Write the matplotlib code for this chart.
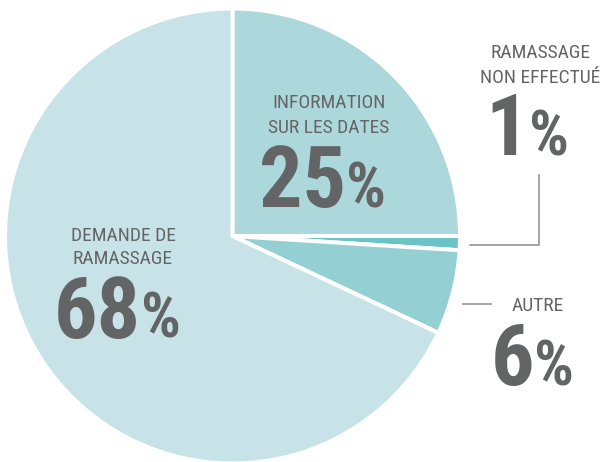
import matplotlib
matplotlib.use('Agg')
import matplotlib.pyplot as plt
from matplotlib import font_manager

# données du camembert (sens horaire depuis le haut)
categories = ['INFORMATION\nSUR LES DATES', 'RAMASSAGE\nNON EFFECTUÉ', 'AUTRE', 'DEMANDE DE\nRAMASSAGE']
values = [25, 1, 6, 68]
pct_labels = ['25', '1', '6', '68']
colors = ['#acd8db', '#6cc3c5', '#94cfd3', '#c8e3e7']

grey = '#636466'

fonts = font_manager.fontManager.ttflist
installed = {f.name for f in fonts}
def pick(*names):
    for n in names:
        if n in installed:
            return n
    return 'DejaVu Sans'

def heaviest(name):
    w = [f.weight for f in fonts if f.name == name]
    w = [int(x) if str(x).isdigit() else 700 for x in w]
    return max(w) if w else 700

narrow = pick('Roboto Condensed', 'Liberation Sans Narrow', 'Arial Narrow', 'Roboto', 'Liberation Sans')
is_narrow = ('Condensed' in narrow) or ('Narrow' in narrow)
lab_fs = 14 if is_narrow else 12.5

# chiffres : la graisse la plus forte disponible
big = pick('Roboto Condensed', 'Roboto', 'Liberation Sans')
big_w = heaviest(big)

fig = plt.figure(figsize=(6.02, 4.62), dpi=100)
ax = fig.add_axes([0, 0, 1, 1])

# axe en pixels, y vers le bas -> angle -90 = haut, counterclock = sens horaire visuel
ax.pie(values, colors=colors, startangle=-90, counterclock=True,
       center=(232.5, 236), radius=227.5,
       wedgeprops=dict(edgecolor='white', linewidth=2.9))
ax.set_xlim(0, 602)
ax.set_ylim(462, 0)
ax.set_aspect('auto')
ax.axis('off')

# positions des textes (x centre du titre, baselines des lignes, x de jonction chiffre/%)
title_x = [329, 540, 538, 123]
title_y = [[108, 133], [58, 83], [311], [241, 264]]
num_split = [346, 529, 534, 141]
num_base = [207, 155, 385, 338]

for i, cat in enumerate(categories):
    for line, yb in zip(cat.split('\n'), title_y[i]):
        ax.text(title_x[i], yb, line, ha='center', va='baseline', color=grey,
                fontsize=lab_fs, family=[narrow, 'DejaVu Sans'])
    ax.text(num_split[i], num_base[i], pct_labels[i], ha='right', va='baseline',
            color=grey, fontsize=62, fontweight=big_w, family=[big, 'DejaVu Sans'])
    ax.text(num_split[i], num_base[i], '%', ha='left', va='baseline',
            color=grey, fontsize=45, fontweight=big_w, family=[big, 'DejaVu Sans'])

# traits de rappel
ax.plot([470, 539, 539], [245, 245, 175], color='#8c8c8c', lw=1.1)
ax.plot([463, 491], [304, 304], color='#8c8c8c', lw=1.1)

plt.savefig('out.png', dpi=100)
